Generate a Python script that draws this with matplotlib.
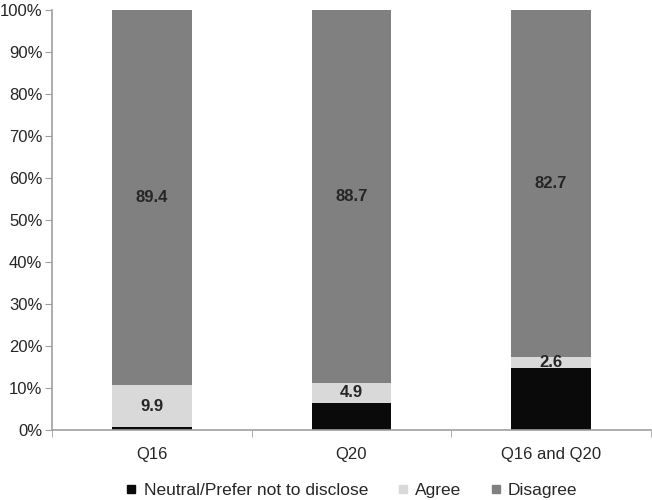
import matplotlib
matplotlib.use("Agg")
import matplotlib.pyplot as plt
import numpy as np
from matplotlib.lines import Line2D

plt.rcParams['font.family'] = ['Liberation Sans', 'DejaVu Sans']

categories = ["Q16", "Q20", "Q16 and Q20"]
neutral = [0.7, 6.4, 14.7]
agree = [9.9, 4.9, 2.6]
disagree = [89.4, 88.7, 82.7]
series_names = ["Neutral/Prefer not to disclose", "Agree", "Disagree"]
colors = ["#0a0a0a", "#d9d9d9", "#808080"]

fig = plt.figure(figsize=(6.52, 5.0), dpi=100)
ax = fig.add_axes([0.08, 0.14, 0.918, 0.84])

x = np.arange(len(categories))
w = 0.4
neutral = np.array(neutral)
agree = np.array(agree)
disagree = np.array(disagree)
ax.bar(x, neutral, w, color=colors[0])
ax.bar(x, agree, w, bottom=neutral, color=colors[1])
ax.bar(x, disagree, w, bottom=neutral + agree, color=colors[2])

for i in range(len(x)):
    ax.text(x[i], neutral[i] + agree[i] / 2, f"{agree[i]:.1f}", ha='center', va='center',
            fontsize=12, fontweight='bold', color='#262626')
    ax.text(x[i], neutral[i] + agree[i] + disagree[i] / 2, f"{disagree[i]:.1f}",
            ha='center', va='center', fontsize=12, fontweight='bold', color='#262626')

ax.set_xlim(-0.5, 2.5)
ax.set_ylim(0, 100)
ax.set_yticks(np.arange(0, 101, 10))
ax.set_yticklabels([f"{v}%" for v in range(0, 101, 10)])
ax.set_xticks(x)
ax.set_xticklabels(categories)
ax.set_xticks([-0.5, 0.5, 1.5, 2.5], minor=True)
ax.tick_params(axis='x', which='major', length=0, pad=12, labelsize=12, labelcolor='#262626')
ax.tick_params(axis='x', which='minor', length=5, color='#a0a0a0', direction='out')
ax.tick_params(axis='y', length=5, color='#a0a0a0', labelsize=12, labelcolor='#262626', pad=2)
for s in ['top', 'right']:
    ax.spines[s].set_visible(False)
for s in ['left', 'bottom']:
    ax.spines[s].set_color('#a0a0a0')
    ax.spines[s].set_linewidth(1.2)

handles = [Line2D([], [], marker='s', linestyle='none', markersize=5.5,
                  markerfacecolor=c, markeredgecolor=c) for c in colors]
fig.legend(handles, series_names, loc='center', bbox_to_anchor=(0.537, 0.02), ncol=3,
           frameon=False, fontsize=12.5, handletextpad=0.2, columnspacing=1.5,
           handlelength=1.0, labelcolor='#262626', borderpad=0)

fig.savefig("out.png", dpi=100)
